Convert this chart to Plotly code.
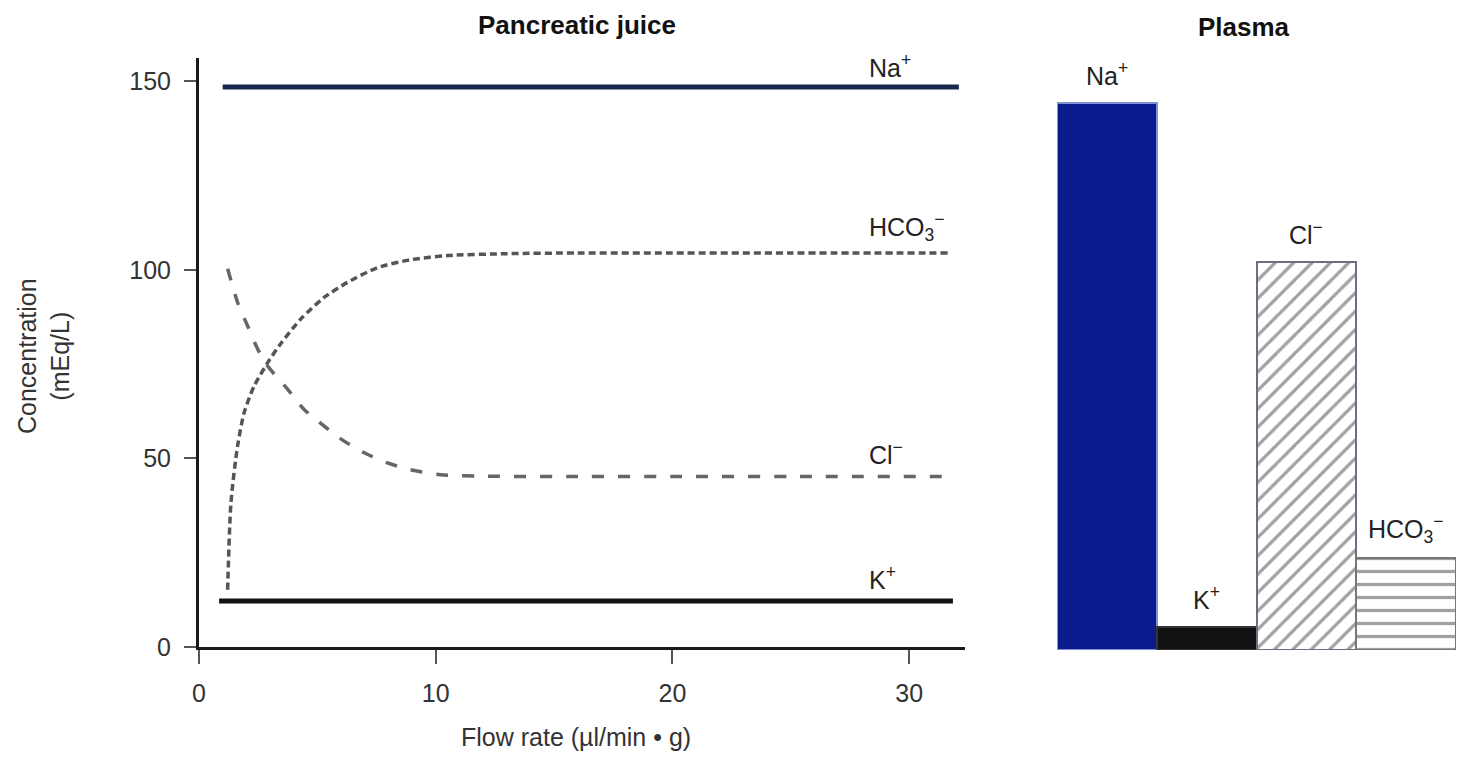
import plotly.graph_objects as go

# ---------------- data ----------------
flow_na = [1.0, 32.1]
na_juice = [148.5, 148.5]

flow_k = [0.85, 31.85]
k_juice = [12.2, 12.2]

flow_hco3 = [1.21, 1.35, 1.63, 1.91, 2.33, 2.9, 3.46, 4.3, 5.29, 6.27, 7.54, 8.94, 10.5, 13.0, 16.0, 20.0, 25.0, 31.7]
hco3_juice = [15.2, 38.3, 53.3, 62.2, 69.2, 75.4, 80.5, 87.0, 92.7, 96.7, 100.6, 102.7, 103.8, 104.3, 104.5, 104.5, 104.5, 104.5]

flow_cl = [1.21, 1.63, 2.05, 2.48, 2.9, 3.74, 4.44, 5.29, 6.13, 6.98, 7.96, 8.94, 10.2, 12.0, 16.0, 20.0, 25.0, 31.9]
cl_juice = [100.3, 91.4, 85.2, 79.0, 74.5, 68.4, 63.0, 58.6, 54.6, 51.5, 48.8, 47.0, 45.7, 45.3, 45.2, 45.2, 45.2, 45.2]

plasma_ions = ["Na+", "K+", "Cl-", "HCO3-"]
plasma_labels = ["Na<sup>+</sup>", "K<sup>+</sup>", "Cl<sup>−</sup>", "HCO<sub>3</sub><sup>−</sup>"]
plasma_values = [145, 6, 103, 24.4]

x_ticks = [0, 10, 20, 30]
y_ticks = [0, 50, 100, 150]

line_labels = ["Na<sup>+</sup>", "HCO<sub>3</sub><sup>−</sup>", "Cl<sup>−</sup>", "K<sup>+</sup>"]
line_label_y = [154, 111.5, 51.5, 18.3]

# ---------------- figure ----------------
# page body has an 8px margin, so the figure is drawn 8px smaller on each side
OFF = 8
W, H = 1464 - 2 * OFF, 760 - 2 * OFF


def px(x):
    return min(1.0, max(0.0, (x - OFF) / W))


def py(y):
    return min(1.0, max(0.0, 1 - (y - OFF) / H))


FONT = "Liberation Sans, Arial, sans-serif"
fig = go.Figure()

fig.add_trace(go.Scatter(x=flow_na, y=na_juice, mode="lines",
                         line=dict(color="#1b2650", width=5), xaxis="x", yaxis="y"))
fig.add_trace(go.Scatter(x=flow_k, y=k_juice, mode="lines",
                         line=dict(color="#111111", width=5), xaxis="x", yaxis="y"))
fig.add_trace(go.Scatter(x=flow_hco3, y=hco3_juice, mode="lines",
                         line=dict(color="#555555", width=3.5, dash="7px,4px",
                                   shape="spline", smoothing=0.7),
                         xaxis="x", yaxis="y"))
fig.add_trace(go.Scatter(x=flow_cl, y=cl_juice, mode="lines",
                         line=dict(color="#666666", width=3.5, dash="12px,14px",
                                   shape="spline", smoothing=0.7),
                         xaxis="x", yaxis="y"))

bar_colors = ["#0b1a8c", "#111111", "#ffffff", "#ffffff"]
bar_line = ["#8090d0", "#333333", "#6a7080", "#777777"]
pat_shapes = ["", "", "/", "-"]
pat_fg = ["#0b1a8c", "#111111", "#34405e", "#444444"]
fig.add_trace(go.Bar(x=plasma_ions, y=plasma_values, xaxis="x2", yaxis="y2",
                     width=1.0,
                     marker=dict(color=bar_colors,
                                 line=dict(color=bar_line, width=2),
                                 pattern=dict(shape=pat_shapes, fgcolor=pat_fg,
                                              bgcolor=bar_colors, size=13,
                                              solidity=0.25))))

ann = []
for t, yv in zip(line_labels, line_label_y):
    ann.append(dict(x=28.2, y=yv, xref="x", yref="y", text=t, showarrow=False,
                    xanchor="left", yanchor="middle",
                    font=dict(family=FONT, size=25, color="#222")))
for cat, t, v in zip(plasma_ions, plasma_labels, plasma_values):
    ann.append(dict(x=cat, y=v, xref="x2", yref="y2", text=t, showarrow=False,
                    xanchor="center", yanchor="middle", yshift=29,
                    font=dict(family=FONT, size=25, color="#222")))

ann.append(dict(x=px(577), y=py(25), xref="paper", yref="paper",
                text="<b>Pancreatic juice</b>", showarrow=False,
                xanchor="center", yanchor="middle",
                font=dict(family=FONT, size=26, color="#111")))
ann.append(dict(x=px(1244), y=py(27), xref="paper", yref="paper",
                text="<b>Plasma</b>", showarrow=False,
                xanchor="center", yanchor="middle",
                font=dict(family=FONT, size=26, color="#111")))
ann.append(dict(x=px(576), y=py(737), xref="paper", yref="paper",
                text="Flow rate (µl/min • g)", showarrow=False,
                xanchor="center", yanchor="middle",
                font=dict(family=FONT, size=25, color="#333")))
ann.append(dict(x=px(43), y=py(356), xref="paper", yref="paper",
                text="Concentration<br>(mEq/L)", showarrow=False, textangle=-90,
                xanchor="center", yanchor="middle",
                font=dict(family=FONT, size=25, color="#333")))

fig.update_layout(
    width=W, height=H,
    margin=dict(l=0, r=0, t=0, b=0),
    paper_bgcolor="white", plot_bgcolor="white",
    showlegend=False,
    bargap=0,
    annotations=ann,
    xaxis=dict(domain=[px(199), px(965)], range=[0, 32.36],
               tickvals=x_ticks, ticktext=[str(v) for v in x_ticks],
               ticks="outside", ticklen=14, tickwidth=2, tickcolor="#555",
               showline=True, linewidth=3, linecolor="#1a1a1a",
               showgrid=False, zeroline=False, automargin=False,
               ticklabelstandoff=8,
               tickfont=dict(family=FONT, size=25, color="#333")),
    yaxis=dict(domain=[py(647), py(58)], range=[0, 156.2],
               tickvals=y_ticks, ticktext=[str(v) for v in y_ticks],
               ticks="outside", ticklen=12, tickwidth=2, tickcolor="#555",
               showline=True, linewidth=3, linecolor="#1a1a1a",
               showgrid=False, zeroline=False, automargin=False,
               ticklabelstandoff=8,
               tickfont=dict(family=FONT, size=25, color="#333")),
    xaxis2=dict(domain=[px(1057), px(1456)], range=[-0.5, 3.5], anchor="y2",
                showline=False, showticklabels=False, ticks="",
                showgrid=False, zeroline=False, automargin=False,
                categoryorder="array", categoryarray=plasma_ions),
    yaxis2=dict(domain=[py(650), py(58)], range=[0, 157], anchor="x2",
                showline=False, showticklabels=False, ticks="",
                showgrid=False, zeroline=False, automargin=False),
)

fig.write_html("out.html")
